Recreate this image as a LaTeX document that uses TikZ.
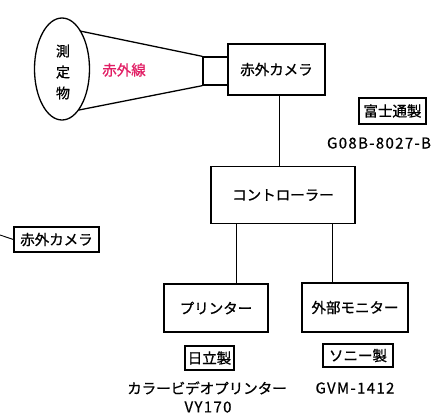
\documentclass[tikz,border=0pt]{standalone}
\usepackage{fontspec}
\setmainfont{Noto Sans CJK JP}
\newfontfamily\medfont[FakeBold=0.9]{Noto Sans CJK JP}
\newfontfamily\latinsp[LetterSpace=9,FakeBold=0.6]{Noto Sans CJK JP}
\usetikzlibrary{shapes.geometric}
\definecolor{irred}{RGB}{225,30,100}
\begin{document}
\begin{tikzpicture}[x=1pt,y=-1pt,
  every node/.style={font=\fontsize{14.5}{16}\medfont\selectfont, inner sep=0pt},
  latin/.style={font=\fontsize{15}{16}\latinsp\selectfont},
  box/.style={draw, line width=1.3pt},
  tag/.style={draw, line width=1.3pt, inner xsep=2pt, inner ysep=2pt},
  ln/.style={line width=1.3pt}]
\useasboundingbox (0,0) rectangle (433,416);
% object
\node[draw, ellipse, line width=1.3pt, minimum width=55, minimum height=102] (obj) at (62,69) {};
\node[align=center, font=\fontsize{14}{21}\medfont\selectfont] (objt) at (63,72) {測\\定\\物};
% lens and camera
\node[box, minimum width=25, minimum height=28] (lens) at (215.5,71) {};
\node[box, minimum width=97, minimum height=51] (cam) at (276.5,69.5) {赤外カメラ};
\draw[ln] (80,31) -- (lens.north west);
\draw[ln] (79,110) -- (lens.south west);
\node[text=irred] (ir) at (124,70) {赤外線};
% fujitsu
\node[tag, minimum width=67, minimum height=26] (fuj) at (392.5,111) {富士通製};
\node[latin] (fujm) at (379,143) {G08B-8027-B};
% controller
\node[box, minimum width=144, minimum height=57] (ctl) at (283,195) {コントローラー};
\coordinate (cx) at (279.5,0);
\draw[ln] (cam.south -| cx) -- (ctl.north -| cx);
% left label
\node[tag, minimum width=85, minimum height=25] (lbl) at (56.5,239.5) {赤外カメラ};
\coordinate (lblend) at (0,235);
\draw[line width=0.9pt] (lblend) -- (lbl.west);
% printer & monitor
\node[box, minimum width=104, minimum height=48] (prn) at (216,308) {プリンター};
\node[box, minimum width=106, minimum height=49] (mon) at (355,307.5) {外部モニター};
\coordinate (px) at (236.5,0);
\coordinate (mx) at (332.5,0);
\draw[ln] (ctl.south -| px) -- (prn.north -| px);
\draw[ln] (ctl.south -| mx) -- (mon.north -| mx);
% makers
\node[tag, minimum width=49, minimum height=24] (hit) at (209.5,358) {日立製};
\node[tag, minimum width=70, minimum height=23] (sony) at (358,355.5) {ソニー製};
\node (hitm) at (207,388) {カラービデオプリンター};
\node[latin] (hitm2) at (208,407) {VY170};
\node[latin] (sonym) at (355,388) {GVM-1412};
\end{tikzpicture}
\end{document}
